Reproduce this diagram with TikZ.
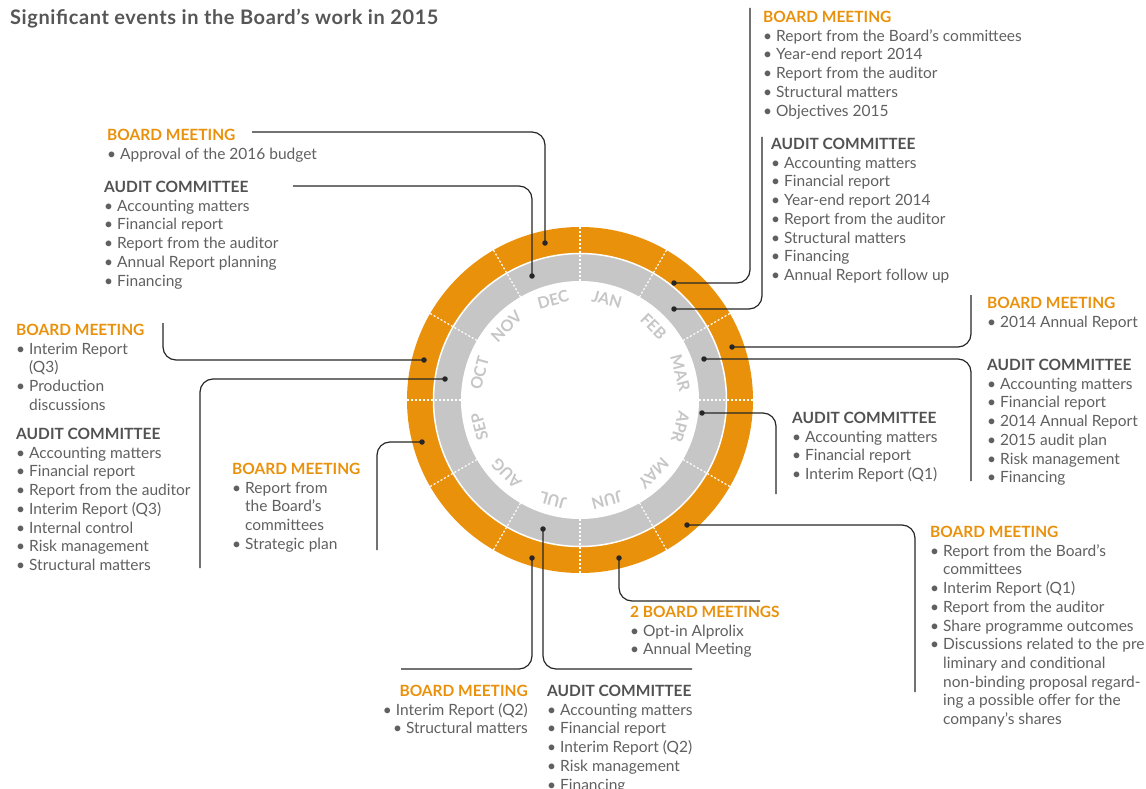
\documentclass[tikz,border=0pt]{standalone}
\usepackage{fontspec}
\setmainfont{Lato}
\usepackage{tikz}

\definecolor{orng}{RGB}{234,145,12}
\definecolor{ringgray}{RGB}{198,198,198}
\definecolor{txtgray}{RGB}{96,96,96}
\definecolor{wire}{RGB}{38,38,38}

\newcommand\obm[1]{{\bfseries\color{orng}#1}}
\newcommand\gac[1]{{\bfseries\color{txtgray!85!black}#1}}
\newcommand\cont{\phantom{•\ }}

\tikzset{
    block/.style={align=left, anchor=north west, inner sep=0pt, text=txtgray,
        font=\fontsize{15.5}{18.7}\selectfont},
    dot/.style={circle, fill=wire, inner sep=0pt, minimum size=5.5pt},
    link/.style={draw=wire, line width=1.2pt, rounded corners=13pt},
    month/.style={text=ringgray, font=\bfseries\fontsize{16}{16}\selectfont},
    divider/.style={white, line width=1.2pt, dash pattern=on 2pt off 2pt}
}

\begin{document}
\begin{tikzpicture}[x=1pt,y=-1pt]
    \useasboundingbox (0,0) rectangle (1146,789);
    \node [anchor=base west, inner sep=0pt, text=txtgray!90!black,
        font=\bfseries\fontsize{20}{24}\selectfont\addfontfeature{LetterSpace=3}]
        (title) at (10,25) {Significant events in the Board’s work in 2015};

    % the year wheel
    \begin{scope}[shift={(580,400)}]
    \fill [orng] (0,0) circle (173);
    \fill [ringgray] (0,0) circle (146.5);
    \fill [white] (0,0) circle (119);
    \draw [white, line width=1.5pt] (0,0) circle (146.5);
    \foreach \a in {0,30,...,330}
        \draw [divider] (\a:119) -- (\a:173);
    \foreach \m [count=\k] in {JAN,FEB,MAR,APR,MAY,JUN,JUL,AUG,SEP,OCT,NOV,DEC}
        \node [month, rotate=15-30*\k] (m\k) at ({30*\k-105}:104) {\m};
    \end{scope}

    % meetings
    \node [block] (bmdec) at (107,129) {\obm{BOARD MEETING}\\
        • Approval of the 2016 budget};
    \node [block] (acdec) at (104,181) {\gac{AUDIT COMMITTEE}\\
        • Accounting matters\\ • Financial report\\ • Report from the auditor\\
        • Annual Report planning\\ • Financing};
    \node [block] (bmoct) at (16,324) {\obm{BOARD MEETING}\\
        • Interim Report\\ \cont(Q3)\\ • Production\\ \cont discussions};
    \node [block] (acoct) at (16,428) {\gac{AUDIT COMMITTEE}\\
        • Accounting matters\\ • Financial report\\ • Report from the auditor\\
        • Interim Report (Q3)\\ • Internal control\\ • Risk management\\
        • Structural matters};
    \node [block] (bmsep) at (232,463) {\obm{BOARD MEETING}\\
        • Report from\\ \cont the Board’s\\ \cont committees\\ • Strategic plan};
    \node [block, align=right, anchor=north east] (bmjul) at (528,685)
        {\obm{BOARD MEETING}\\ • Interim Report (Q2)\\ • Structural matters};
    \node [block] (acjul) at (547,685) {\gac{AUDIT COMMITTEE}\\
        • Accounting matters\\ • Financial report\\ • Interim Report (Q2)\\
        • Risk management\\ • Financing};
    \node [block] (bmjun) at (630,606) {\obm{2 BOARD MEETINGS}\\
        • Opt-in Alprolix\\ • Annual Meeting};
    \node [block] (bmmay) at (930,526) {\obm{BOARD MEETING}\\
        • Report from the Board’s\\ \cont committees\\ • Interim Report (Q1)\\
        • Report from the auditor\\ • Share programme outcomes\\
        • Discussions related to the pre\\ \cont liminary and conditional\\
        \cont non-binding proposal regard-\\ \cont ing a possible offer for the\\
        \cont company's shares};
    \node [block] (acapr) at (792,412) {\gac{AUDIT COMMITTEE}\\
        • Accounting matters\\ • Financial report\\ • Interim Report (Q1)};
    \node [block] (bmmar) at (987,297) {\obm{BOARD MEETING}\\
        • 2014 Annual Report};
    \node [block] (acmar) at (987,359) {\gac{AUDIT COMMITTEE}\\
        • Accounting matters\\ • Financial report\\ • 2014 Annual Report\\
        • 2015 audit plan\\ • Risk management\\ • Financing};
    \node [block] (bmfeb) at (763,11) {\obm{BOARD MEETING}\\
        • Report from the Board’s committees\\ • Year-end report 2014\\
        • Report from the auditor\\ • Structural matters\\ • Objectives 2015};
    \node [block] (acfeb) at (771,138) {\gac{AUDIT COMMITTEE}\\
        • Accounting matters\\ • Financial report\\ • Year-end report 2014\\
        • Report from the auditor\\ • Structural matters\\ • Financing\\
        • Annual Report follow up};

    % markers on the wheel and their leaders
    \coordinate (ebmdec) at (252,132);
    \coordinate (eacdec) at (293,186);
    \coordinate (ebmfeb) at (750,8);
    \coordinate (eacfeb) at (762,137);
    \coordinate (ebmmar) at (971,295);
    \coordinate (eacmar) at (971,481);
    \coordinate (eacapr) at (776,494);
    \coordinate (ebmmay) at (915,692);
    \coordinate (ebmjun) at (760,601);
    \coordinate (eacjul) at (692,669);
    \coordinate (ebmjul) at (401,669);
    \coordinate (ebmsep) at (377,550);
    \coordinate (eacoct) at (200,568);
    \coordinate (ebmoct) at (163,323);

    \node [dot] (dbmdec) at (545,243) {};
    \node [dot] (dacdec) at (532,276) {};
    \node [dot] (dbmfeb) at (674,283) {};
    \node [dot] (dacfeb) at (674,309) {};
    \node [dot] (dbmmar) at (732,347) {};
    \node [dot] (dacmar) at (704,359) {};
    \node [dot] (dacapr) at (702,413) {};
    \node [dot] (dbmmay) at (687,525) {};
    \node [dot] (dbmjun) at (619,558) {};
    \node [dot] (dacjul) at (543,529) {};
    \node [dot] (dbmjul) at (532,558) {};
    \node [dot] (dbmsep) at (422,442) {};
    \node [dot] (dacoct) at (445,379) {};
    \node [dot] (dbmoct) at (424,360) {};

    \draw [link] (dbmdec.center) |- (ebmdec);
    \draw [link] (dacdec.center) |- (eacdec);
    \draw [link] (dbmfeb.center) -| (ebmfeb);
    \draw [link] (dacfeb.center) -| (eacfeb);
    \draw [link] (dbmmar.center) -| (ebmmar);
    \draw [link] (dacmar.center) -| (eacmar);
    \draw [link] (dacapr.center) -| (eacapr);
    \draw [link] (dbmmay.center) -| (ebmmay);
    \draw [link] (dbmjun.center) |- (ebmjun);
    \draw [link] (dacjul.center) |- (eacjul);
    \draw [link] (dbmjul.center) |- (ebmjul);
    \draw [link] (dbmsep.center) -| (ebmsep);
    \draw [link] (dacoct.center) -| (eacoct);
    \draw [link] (dbmoct.center) -| (ebmoct);
\end{tikzpicture}
\end{document}
